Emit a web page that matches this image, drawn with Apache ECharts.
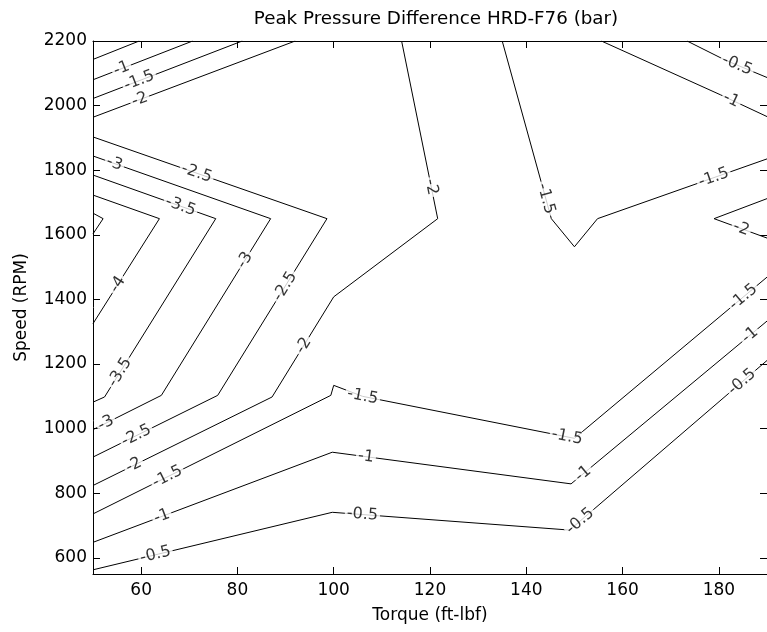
<!DOCTYPE html>
<html>
<head>
<meta charset="utf-8">
<title>Peak Pressure Difference HRD-F76</title>
<script src="https://cdn.jsdelivr.net/npm/echarts@6/dist/echarts.min.js"></script>
<style>
  html, body { margin: 0; padding: 0; background: #fff; }
  #chart { width: 767px; height: 632px; }
</style>
</head>
<body>
<div id="chart"></div>
<script>
const FONT = 'DejaVu Sans';

const xTicks = [60, 80, 100, 120, 140, 160, 180];
const yTicks = [600, 800, 1000, 1200, 1400, 1600, 1800, 2000, 2200];

// contour lines, each point is [torque, speed]
const cM05TopLeft = [[50, 2143], [59.6, 2200]];
const cM1TopLeft = [[50, 2080], [70.7, 2200]];
const cM15TopLeft = [[50, 2022], [81, 2200]];
const cM2TopLeft = [[50, 1964], [92, 2200]];
const cM25 = [[50, 1903], [98.6, 1650], [75.9, 1103], [50, 912]];
const cM3 = [[50, 1844], [86.9, 1650], [64.2, 1103], [50, 997]];
const cM35 = [[50, 1785], [75.5, 1650], [52.4, 1098], [50, 1082]];
const cM4 = [[50, 1723], [63.8, 1650], [50, 1325]];
const cM45 = [[50, 1667], [52.1, 1650], [50, 1603]];
const cM2Main = [[114.1, 2200], [121.6, 1650], [100, 1408], [87.2, 1098], [50, 824]];
const cM15Upper = [[135, 2200], [145.2, 1650], [150, 1563], [154.8, 1650], [190, 1835]];
const cM2Right = [[190, 1712], [179, 1650], [190, 1590]];
const cM1TopRight = [[155.6, 2200], [180.4, 2033], [190, 1966]];
const cM05TopRight = [[173.4, 2200], [181.3, 2141], [190, 2087]];
const cM15Lower = [[50, 736], [99.4, 1103], [100, 1134], [106, 1100], [150, 970], [190, 1469]];
const cM1Lower = [[50, 648], [99.7, 927], [149.3, 829], [190, 1333]];
const cM05Lower = [[50, 563], [99.7, 741], [149, 686], [190, 1211]];

const paths = [cM05TopLeft, cM1TopLeft, cM15TopLeft, cM2TopLeft, cM25, cM3, cM35, cM4, cM45,
  cM2Main, cM15Upper, cM2Right, cM1TopRight, cM05TopRight, cM15Lower, cM1Lower, cM05Lower];

// in-line contour labels
const labelText = ['-1', '-1.5', '-2', '-3', '-2.5', '-3.5', '-4', '-3', '-2.5', '-2',
  '-1.5', '-1.5', '-2', '-0.5', '-1', '-3.5', '-3', '-2.5', '-2', '-1.5',
  '-1', '-0.5', '-2', '-1.5', '-1', '-0.5', '-1.5', '-1', '-0.5', '-1.5',
  '-1', '-0.5'];
const labelTorque = [56.2, 59.7, 60, 54.1, 71.4, 67.9, 55.9, 82.1, 90, 119,
  144.1, 179, 184.5, 183.5, 182.1, 55.5, 53.1, 59, 59, 65.5,
  64.5, 63.1, 94.2, 106, 106.6, 105.9, 148.5, 152.1, 151.4, 184.5,
  185.9, 184.5];
const labelSpeed = [2105, 2074, 2007, 1805, 1785, 1676, 1439, 1516, 1439, 1744,
  1712, 1775, 1614, 2115, 2002, 1175, 1005, 979, 870, 850,
  721, 602, 1253, 1098, 902, 721, 976, 855, 710, 1418,
  1299, 1150];
const labelOnPath = [1, 2, 3, 5, 4, 6, 7, 5, 4, 9,
  10, 10, 11, 13, 12, 6, 5, 4, 9, 14,
  15, 16, 9, 14, 15, 16, 14, 15, 16, 14,
  15, 16];

const chart = echarts.init(document.getElementById('chart'));

const txt = { color: '#000', fontFamily: FONT, fontSize: 17 };

function xAx(pos) {
  const bottom = pos === 'bottom';
  return {
    type: 'value', position: pos, min: 50, max: 190,
    axisLine: { show: true, onZero: false, lineStyle: { color: '#000', width: 1 } },
    axisTick: { show: true, inside: true, length: 7, customValues: xTicks, lineStyle: { color: '#000' } },
    axisLabel: { show: bottom, customValues: xTicks, margin: 8, formatter: v => String(v), ...txt },
    splitLine: { show: false },
    name: bottom ? 'Torque (ft-lbf)' : '',
    nameLocation: 'middle', nameGap: 33, nameTextStyle: txt
  };
}
function yAx(pos) {
  const left = pos === 'left';
  return {
    type: 'value', position: pos, min: 550, max: 2200,
    axisLine: { show: true, onZero: false, lineStyle: { color: '#000', width: 1 } },
    axisTick: { show: true, inside: true, length: 7, customValues: yTicks, lineStyle: { color: '#000' } },
    axisLabel: { show: left, customValues: yTicks, margin: 6, formatter: v => String(v), ...txt },
    splitLine: { show: false },
    name: left ? 'Speed (RPM)' : '',
    nameLocation: 'middle', nameGap: 63, nameRotate: 90, nameTextStyle: txt
  };
}

const lineSeries = paths.map(p => ({
  type: 'line', data: p, xAxisIndex: 0, yAxisIndex: 0,
  symbol: 'none', showSymbol: false, silent: true, z: 2,
  lineStyle: { color: '#000', width: 1 }
}));

chart.setOption({
  animation: false,
  title: {
    text: 'Peak Pressure Difference HRD-F76 (bar)',
    left: 431, top: 5, textAlign: 'center',
    textStyle: { ...txt, fontSize: 18.3, fontWeight: 'normal' }
  },
  grid: { left: 93, top: 41, width: 677, height: 533 },
  xAxis: [xAx('bottom'), xAx('top')],
  yAxis: [yAx('left'), yAx('right')],
  series: lineSeries
});

// put each label on its contour and turn it along the line
const finder = { xAxisIndex: 0, yAxisIndex: 0 };
const labelData = labelText.map((t, i) => {
  const p = chart.convertToPixel(finder, [labelTorque[i], labelSpeed[i]]);
  const pts = paths[labelOnPath[i]].map(d => chart.convertToPixel(finder, d));
  let best = null;
  for (let k = 0; k < pts.length - 1; k++) {
    const [ax, ay] = pts[k];
    const [bx, by] = pts[k + 1];
    const dx = bx - ax, dy = by - ay;
    let s = ((p[0] - ax) * dx + (p[1] - ay) * dy) / (dx * dx + dy * dy);
    s = Math.max(0, Math.min(1, s));
    const q = [ax + s * dx, ay + s * dy];
    const dist = Math.hypot(p[0] - q[0], p[1] - q[1]);
    if (!best || dist < best.dist) best = { dist, q, dx, dy };
  }
  let ang = -Math.atan2(best.dy, best.dx) * 180 / Math.PI;
  if (ang > 90) ang -= 180;
  if (ang < -90) ang += 180;
  return { value: chart.convertFromPixel(finder, best.q), label: { formatter: t, rotate: ang } };
});

chart.setOption({
  series: lineSeries.concat([{
    type: 'scatter', xAxisIndex: 0, yAxisIndex: 0,
    symbolSize: 1, silent: true, z: 5, clip: false,
    itemStyle: { color: 'rgba(0,0,0,0)' },
    label: {
      show: true, position: 'inside', ...txt, fontSize: 16,
      backgroundColor: '#fff', padding: [0, 2]
    },
    data: labelData
  }])
});
</script>
</body>
</html>
